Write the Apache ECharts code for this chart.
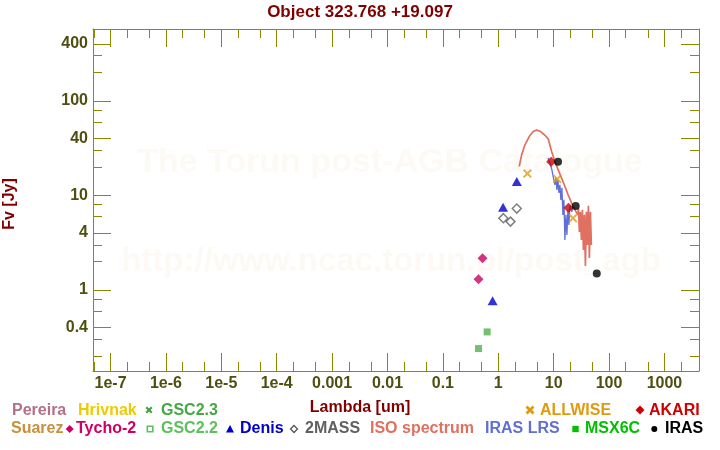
<!DOCTYPE html>
<html>
<head>
<meta charset="utf-8">
<script src="https://cdn.jsdelivr.net/npm/echarts@6/dist/echarts.min.js"></script>
<style>
html,body{margin:0;padding:0;background:#fff;}
#chart{width:720px;height:450px;}
</style>
</head>
<body>
<div id="chart"></div>
<script>
// ---------- data (wavelength in um, flux in Jy) ----------
const denisLambda = [0.79, 1.22, 2.16];
const denisFlux   = [0.77, 7.5, 14.0];
const tmassLambda = [1.235, 1.662, 2.159];
const tmassFlux   = [5.74, 5.28, 7.25];
const tychoLambda = [0.44, 0.52];
const tychoFlux   = [1.30, 2.16];
const gsc22Lambda = [0.44, 0.63];
const gsc22Flux   = [0.24, 0.36];
const allwiseLambda = [3.35, 11.6, 22.3];
const allwiseFlux   = [17.0, 14.9, 5.74];
const akariLambda = [9.0, 18.5];
const akariFlux   = [22.6, 7.38];
const irasLambda  = [12, 25, 60];
const irasFlux    = [22.6, 7.74, 1.49];
const msxLambda   = [];
const msxFlux     = [];

const isoLambda = [2.39, 2.64, 3.03, 3.62, 4.28, 4.93, 5.82, 6.95, 7.97, 9.19, 10.5, 12.1, 13.9, 16.0, 18.3, 21.1, 24.2, 27.4,
                   27.97, 29.15, 30.39, 31.68, 33.03, 34.43, 35.88, 37.41, 38.99, 40.64, 42.36, 44.16, 46.03, 47.97];
const isoFlux   = [20.2, 26.8, 34.2, 41.9, 47.3, 49.0, 47.3, 43.2, 39.6, 29.1, 22.8, 18.6, 15.2, 12.4, 10.1, 8.27, 7.03, 6.22,
                   7.38, 4.11, 6.69, 3.38, 7.02, 2.65, 6.22, 1.79, 6.69, 2.99, 7.74, 2.18, 6.69, 2.99];

const lrsLambda = [7.88, 8.56, 9.30, 9.90, 10.54, 10.98, 11.45, 11.94, 12.44, 12.97, 13.52, 14.09, 14.69, 15.31, 15.97, 16.64, 17.35, 18.08, 18.85, 19.65, 21.3, 22.2];
const lrsFlux   = [24.9, 22.1, 18.6, 15.3, 12.9, 15.3, 11.4, 14.6, 10.6, 12.9, 8.96, 12.0, 6.22, 8.96, 3.38, 6.22, 3.82, 7.03, 4.87, 7.93, 6.69, 7.55];

// ---------- axis ticks ----------
const xTickValues = [1e-7, 1e-6, 1e-5, 1e-4, 0.001, 0.01, 0.1, 1, 10, 100, 1000];
const xTickLabels = ['1e-7', '1e-6', '1e-5', '1e-4', '0.001', '0.01', '0.1', '1', '10', '100', '1000'];
const xMinorValues = [2e-8, 5e-8, 2e-7, 5e-7, 2e-6, 5e-6, 2e-5, 5e-5, 2e-4, 5e-4, 0.002, 0.005, 0.02, 0.05, 0.2, 0.5, 2, 5, 20, 50, 200, 500, 2000];
const yTickValues = [0.4, 1, 4, 10, 40, 100, 400];
const yTickLabels = ['0.4', '1', '4', '10', '40', '100', '400'];
const yMinorValues = [0.2, 0.3, 0.6, 0.8, 2, 3, 6, 8, 20, 30, 60, 80, 200, 300];
const xRangeLog = [-7.317, 3.624];
const yRangeLog = [-0.857, 2.759];

const L = Math.log10;
const OLIVE = '#8b8b00';
const LABEL = '#4f4f12';
const MAROON = '#800000';
const FONT = '"Liberation Sans", Arial, sans-serif';

function fmt(values, labels) {
  return function (v) {
    for (let i = 0; i < values.length; i++) {
      if (Math.abs(L(values[i]) - v) < 1e-6) return labels[i];
    }
    return '';
  };
}
function pts(xs, ys) { return xs.map((x, i) => [L(x), L(ys[i])]); }

function xAx(pos, major, withLabel, withLine) {
  return {
    type: 'value', position: pos, min: xRangeLog[0], max: xRangeLog[1],
    axisLine: { show: withLine, onZero: false, lineStyle: { color: OLIVE, width: 1 } },
    axisTick: { show: true, inside: true, length: major ? 18 : 9,
      customValues: (major ? xTickValues : xMinorValues).map(L), lineStyle: { color: OLIVE, width: 1 } },
    axisLabel: withLabel ? { show: true, customValues: xTickValues.map(L), formatter: fmt(xTickValues, xTickLabels),
      color: LABEL, fontSize: 16, fontWeight: 'bold', fontFamily: FONT, margin: 5 } : { show: false },
    splitLine: { show: false }
  };
}
function yAx(pos, major, withLabel, withLine) {
  return {
    type: 'value', position: pos, min: yRangeLog[0], max: yRangeLog[1],
    axisLine: { show: withLine, onZero: false, lineStyle: { color: OLIVE, width: 1 } },
    axisTick: { show: true, inside: true, length: major ? 18 : 9,
      customValues: (major ? yTickValues : yMinorValues).map(L), lineStyle: { color: OLIVE, width: 1 } },
    axisLabel: withLabel ? { show: true, customValues: yTickValues.map(L), formatter: fmt(yTickValues, yTickLabels),
      color: LABEL, fontSize: 16, fontWeight: 'bold', fontFamily: FONT, margin: 5, padding: [5, 0, 0, 0] } : { show: false },
    splitLine: { show: false }
  };
}

const crossPath = 'path://M0,1.5L1.5,0L5,3.5L8.5,0L10,1.5L6.5,5L10,8.5L8.5,10L5,6.5L1.5,10L0,8.5L3.5,5Z';

function scatter(name, xs, ys, symbol, size, itemStyle, z) {
  return { type: 'scatter', name: name, data: pts(xs, ys), symbol: symbol, symbolSize: size,
    itemStyle: itemStyle, z: z || 5, xAxisIndex: 0, yAxisIndex: 0 };
}

// ---------- legend graphics ----------
function txt(text, x, y, color, extra) {
  return Object.assign({ type: 'text', z: 100, style: { text: text, x: x, y: y, fill: color,
    font: 'bold 16px ' + FONT, verticalAlign: 'middle', align: 'left' } }, extra || {});
}
const R1 = 411, R2 = 429;
const graphics = [
  // watermark
  { type: 'text', z: -10, silent: true, style: { text: 'The Torun post-AGB Catalogue', x: 390, y: 163, fill: '#fdfaf5',
      font: 'bold 34px ' + FONT, align: 'center', verticalAlign: 'middle' } },
  { type: 'text', z: -10, silent: true, style: { text: 'http://www.ncac.torun.pl/post_agb', x: 391, y: 262, fill: '#fdfaf5',
      font: 'bold 33px ' + FONT, align: 'center', verticalAlign: 'middle' } },
  // title & axis names
  { type: 'text', z: 100, style: { text: 'Object 323.768 +19.097', x: 360, y: 12, fill: MAROON,
      font: 'bold 17px ' + FONT, align: 'center', verticalAlign: 'middle' } },
  { type: 'text', z: 100, style: { text: 'Lambda [um]', x: 360, y: 408, fill: MAROON,
      font: 'bold 16px ' + FONT, align: 'center', verticalAlign: 'middle' } },
  { type: 'text', z: 100, x: 10, y: 204, rotation: Math.PI / 2, style: { text: 'Fv [Jy]', x: 0, y: 0, fill: MAROON,
      font: 'bold 16px ' + FONT, align: 'center', verticalAlign: 'middle' } },
  // legend row 1
  txt('Pereira', 12, R1, '#b07088'),
  txt('Hrivnak', 78, R1, '#eccb00'),
  { type: 'polygon', z: 100, shape: { points: [[145.5, 408],[147, 406.5],[149, 408.5],[151, 406.5],[152.5, 408],[150.5, 410],[152.5, 412],[151, 413.5],[149, 411.5],[147, 413.5],[145.5, 412],[147.5, 410]] }, style: { fill: '#40a040' } },
  txt('GSC2.3', 161, R1, '#45a845'),
  { type: 'polygon', z: 100, shape: { points: [[525.5, 407.5],[527.5, 405.5],[530, 408],[532.5, 405.5],[534.5, 407.5],[532, 410],[534.5, 412.5],[532.5, 414.5],[530, 412],[527.5, 414.5],[525.5, 412.5],[528, 410]] }, style: { fill: '#e09a10' } },
  txt('ALLWISE', 540, R1, '#e09a10'),
  { type: 'polygon', z: 100, shape: { points: [[640, 405.5],[644.5, 410],[640, 414.5],[635.5, 410]] }, style: { fill: '#d00000' } },
  txt('AKARI', 649, R1, '#d00000'),
  // legend row 2
  txt('Suarez', 11, R2, '#c8903c'),
  { type: 'polygon', z: 100, shape: { points: [[69.7, 425],[73.7, 429],[69.7, 433],[65.7, 429]] }, style: { fill: '#cc0066' } },
  txt('Tycho-2', 76, R2, '#cc0066'),
  { type: 'rect', z: 100, shape: { x: 147.3, y: 426.3, width: 5.5, height: 5.5 }, style: { fill: 'none', stroke: '#5cc05c', lineWidth: 1.6 } },
  txt('GSC2.2', 161, R2, '#5cc05c'),
  { type: 'polygon', z: 100, shape: { points: [[230, 425],[234, 432.5],[226, 432.5]] }, style: { fill: '#0000cc' } },
  txt('Denis', 240, R2, '#0000cc'),
  { type: 'polygon', z: 100, shape: { points: [[294, 425.5],[297.5, 429],[294, 432.5],[290.5, 429]] }, style: { fill: 'none', stroke: '#555555', lineWidth: 1.3 } },
  txt('2MASS', 305, R2, '#606060'),
  txt('ISO spectrum', 370, R2, '#e07060'),
  txt('IRAS LRS', 485, R2, '#6070d0'),
  { type: 'rect', z: 100, shape: { x: 572.3, y: 425.8, width: 6.4, height: 6.4 }, style: { fill: '#00c000' } },
  txt('MSX6C', 585, R2, '#00c000'),
  { type: 'circle', z: 100, shape: { cx: 654.3, cy: 429, r: 3 }, style: { fill: '#000000' } },
  txt('IRAS', 665, R2, '#000000')
];

const chart = echarts.init(document.getElementById('chart'), null, { renderer: 'canvas' });
chart.setOption({
  animation: false,
  backgroundColor: '#ffffff',
  grid: { left: 93, right: 21, top: 29, bottom: 79, containLabel: false },
  xAxis: [xAx('bottom', true, true, true), xAx('bottom', false, false, false), xAx('top', true, false, true), xAx('top', false, false, false)],
  yAxis: [yAx('left', true, true, true), yAx('left', false, false, false), yAx('right', true, false, true), yAx('right', false, false, false)],
  graphic: graphics,
  series: [
    { type: 'line', name: 'IRAS LRS', data: pts(lrsLambda, lrsFlux), showSymbol: false, symbol: 'none',
      lineStyle: { color: '#5f6fd8', width: 1.3 }, z: 2 },
    { type: 'line', name: 'ISO spectrum', data: pts(isoLambda, isoFlux), showSymbol: false, symbol: 'none',
      lineStyle: { color: '#e07060', width: 1.7 }, z: 3 },
    scatter('GSC2.2', gsc22Lambda, gsc22Flux, 'rect', 7, { color: '#50b050' }),
    scatter('Tycho-2', tychoLambda, tychoFlux, 'diamond', 10, { color: '#cc0066' }),
    scatter('Denis', denisLambda, denisFlux, 'triangle', [10, 9], { color: '#0000c8' }),
    scatter('2MASS', tmassLambda, tmassFlux, 'diamond', 9, { color: '#ffffff', borderColor: '#606060', borderWidth: 1.5 }),
    scatter('MSX6C', msxLambda, msxFlux, 'rect', 7, { color: '#00c000' }),
    scatter('ALLWISE', allwiseLambda, allwiseFlux, crossPath, 9, { color: '#e09a10' }),
    scatter('AKARI', akariLambda, akariFlux, 'diamond', 10, { color: '#d00000' }),
    scatter('IRAS', irasLambda, irasFlux, 'circle', 8, { color: '#000000' }, 6)
  ]
});
</script>
</body>
</html>
